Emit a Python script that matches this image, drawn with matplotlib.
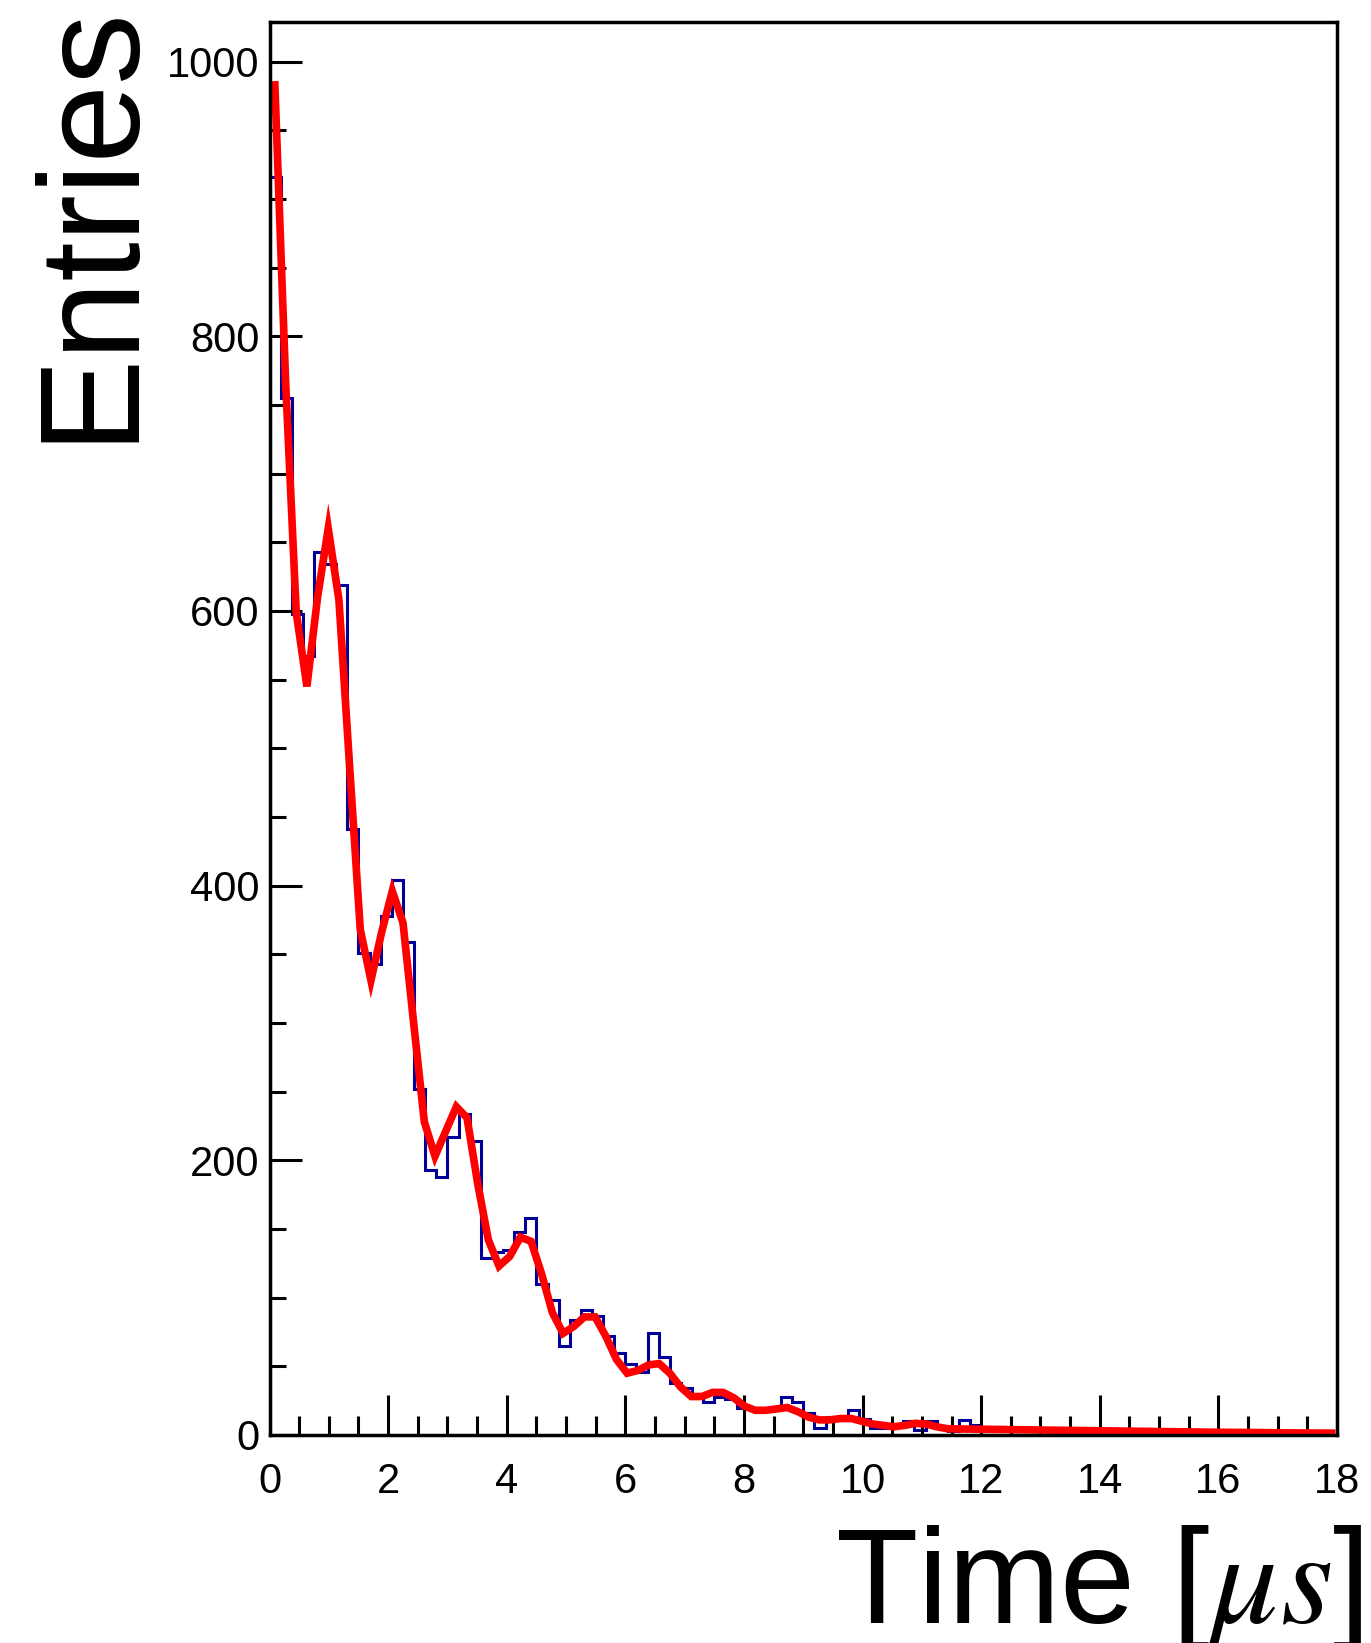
import numpy as np
import matplotlib
matplotlib.use('Agg')
import matplotlib.pyplot as plt
from matplotlib.ticker import MultipleLocator

plt.rcParams['font.family'] = ['Liberation Sans', 'DejaVu Sans']
plt.rcParams['mathtext.fontset'] = 'stix'

# histogram: 96 bins over 0-18 us
hist_counts = [916, 755, 598, 567, 643, 634, 619, 441, 351, 343,
               378, 404, 359, 252, 193, 188, 217, 234, 214, 129,
               133, 135, 148, 158, 110, 98, 65, 84, 91, 87,
               72, 60, 52, 46, 74, 57, 38, 34, 30, 24,
               28, 26, 20, 19, 19, 18, 28, 24, 16, 5,
               13, 13, 18, 12, 5, 5, 7, 10, 4, 10,
               6, 3, 11, 7, 6, 6, 5, 5, 3, 3,
               4, 2, 3, 2, 3, 2, 2, 3, 1, 2,
               4, 1, 2, 1, 1, 2, 1, 0, 1, 1,
               0, 1, 0, 0, 1, 0]
hist_edges = np.linspace(0, 18, len(hist_counts) + 1)

# fit curve, 100 points
fit_vals = [983, 768, 599, 545, 610, 660, 608, 487, 368, 331,
            366, 396, 373, 300, 228, 203, 221, 239, 231, 183,
            142, 123, 130, 144, 141, 117, 89, 74, 79, 86,
            86, 72, 55, 45, 47, 51, 52, 45, 35, 28,
            28, 31, 31, 27, 21, 18, 18, 19, 20, 17,
            13, 11, 11, 12, 12, 10, 8, 7, 6, 7,
            8.5, 8, 6, 4.6, 4.4, 4.3, 4.2, 4.1, 4.0, 3.9,
            3.8, 3.7, 3.6, 3.5, 3.4, 3.3, 3.2, 3.1, 3.0, 2.9,
            2.8, 2.7, 2.6, 2.5, 2.4, 2.3, 2.2, 2.1, 2.0, 1.95,
            1.9, 1.85, 1.8, 1.7, 1.6, 1.55, 1.5, 1.45, 1.4, 1.35]
fit_t = np.linspace(0.09, 17.91, len(fit_vals))

x_ticks = [0, 2, 4, 6, 8, 10, 12, 14, 16, 18]
y_ticks = [0, 200, 400, 600, 800, 1000]

fig = plt.figure(figsize=(13.71, 16.43), dpi=100)
ax = fig.add_axes([0.1966, 0.1266, 0.9752 - 0.1966, 0.9868 - 0.1266])

ax.stairs(hist_counts, hist_edges, color='#000099', lw=2.2)
ax.plot(fit_t, fit_vals, color='#ff0000', lw=5.5, solid_joinstyle='miter')

ax.set_xlim(0, 18)
ax.set_ylim(0, 1029)
ax.set_xticks(x_ticks)
ax.set_yticks(y_ticks)
ax.xaxis.set_minor_locator(MultipleLocator(0.5))
ax.yaxis.set_minor_locator(MultipleLocator(50))

for s in ax.spines.values():
    s.set_linewidth(2.5)

ax.tick_params(axis='x', which='major', direction='in', length=29, width=2.2,
               pad=19.5, labelsize=30)
ax.tick_params(axis='x', which='minor', direction='in', length=14, width=2.2)
ax.tick_params(axis='y', which='major', direction='in', length=23, width=2.2,
               pad=7, labelsize=30)
ax.tick_params(axis='y', which='minor', direction='in', length=11.5, width=2.2)

fig.text(128 / 1371, 1 - 1 / 1643, 'Entries', rotation=90, rotation_mode='anchor',
         ha='right', va='baseline', fontsize=102)
fig.text(1362 / 1371, 1 - 1623 / 1643, r'Time [$\mu s$]', ha='right', va='baseline',
         fontsize=97)

fig.savefig('out.png', dpi=100)
